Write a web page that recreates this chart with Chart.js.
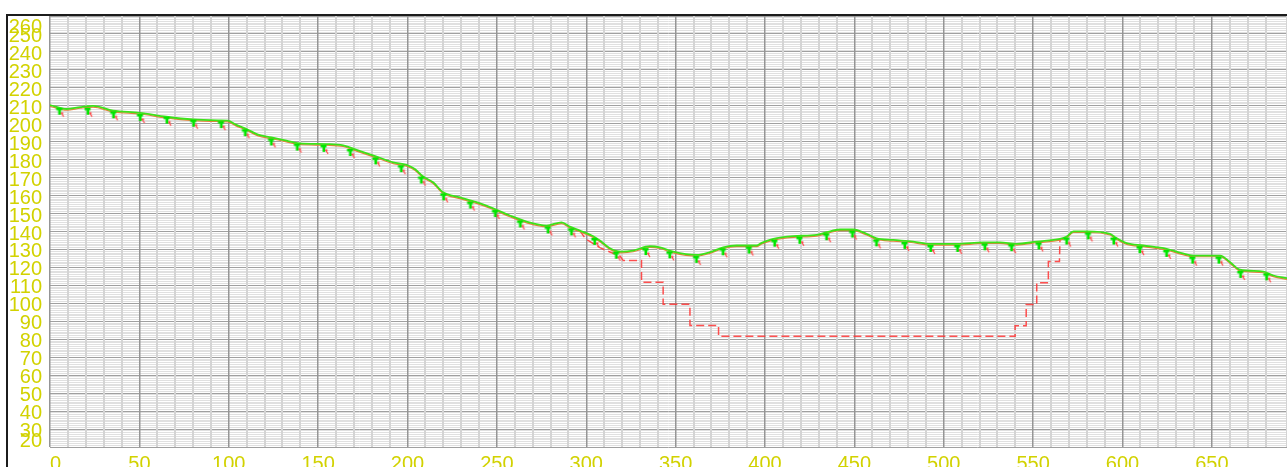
<!DOCTYPE html>
<html><head><meta charset="utf-8">
<script src="https://cdn.jsdelivr.net/npm/chart.js@4.4.1/dist/chart.umd.min.js"></script>
<style>
html,body{margin:0;padding:0;background:#fff;}
#wrap{position:relative;width:1287px;height:467px;overflow:hidden;}
#c{position:absolute;left:0;top:0;}
#frame{position:absolute;left:6px;top:14px;right:-10px;bottom:-10px;border-top:2px solid #1c1c1c;border-left:2px solid #1c1c1c;pointer-events:none;}
</style></head><body>
<div id="wrap"><canvas id="c" width="1287" height="467"></canvas><div id="frame"></div></div>
<script>
// ---- data ----
const profileX = [0, 9.4, 17, 24.1, 35.3, 50.2, 65.1, 80, 95, 99.6, 104, 109.9, 116.4, 123.9, 132.3, 139.7, 154.7, 164.0, 171.5, 182.7, 192.0, 199.4, 204.1, 208.7, 214.3, 219.9, 229.3, 238.6, 247.9, 257.2, 266.6, 277.8, 286.2, 290.8, 296.4, 303.9, 307.6, 313.2, 319.7, 326.2, 335.6, 341.2, 348.6, 361.7, 369.2, 376.6, 384.1, 395.3, 398.1, 404.6, 415.8, 428.9, 434.5, 441.9, 449.4, 456.8, 462.4, 471.8, 483.0, 492.3, 507.2, 522.1, 531.4, 540.8, 552.0, 565.0, 568.8, 572.5, 580.0, 593.0, 595.8, 602.3, 611.6, 624.7, 633.1, 639.6, 654.6, 660.2, 665.8, 678.8, 684.4, 692];
const profileY = [210.4, 208.2, 209.3, 209.9, 207.3, 206.1, 203.9, 202.4, 201.9, 201.7, 199.5, 197.1, 193.9, 192.4, 190.6, 189.1, 188.7, 188.0, 185.4, 181.7, 178.5, 177.1, 174.8, 170.6, 167.4, 161.8, 159.0, 156.3, 152.9, 148.9, 145.5, 143.3, 145.1, 142.7, 140.5, 137.4, 135.0, 130.7, 128.8, 129.4, 131.8, 131.2, 128.8, 127.0, 128.5, 131.2, 132.2, 132.2, 133.7, 135.9, 137.4, 138.1, 139.6, 141.1, 141.1, 138.7, 136.2, 135.3, 134.4, 133.1, 133.1, 134.0, 134.0, 133.1, 134.4, 135.9, 137.2, 140.1, 140.1, 138.7, 136.8, 133.5, 132.2, 130.3, 127.9, 126.6, 126.6, 122.9, 118.7, 117.7, 115.5, 114.0];
const cutX = [296.4, 299.5, 307.6, 313.2, 318.8, 320.7, 330.9, 330.9, 343.0, 343.0, 358.0, 358.0, 374.0, 374.0, 539.9, 539.9, 546.1, 546.1, 552.0, 552.0, 558.5, 558.5, 564.7, 565.0];
const cutY = [140.5, 136.0, 131.0, 128.6, 126.4, 123.8, 123.8, 111.8, 111.8, 99.5, 99.5, 87.7, 87.7, 81.7, 81.7, 87.5, 87.5, 99.4, 99.4, 111.4, 111.4, 123.3, 123.3, 135.9];
const markerX = [5.4, 21.3, 35.6, 50.6, 65.5, 80.4, 95.9, 109.3, 123.9, 138.4, 153.3, 168.1, 182.3, 196.6, 207.8, 220.3, 235.3, 249.2, 263.2, 278.7, 291.8, 304.8, 316.9, 333.4, 346.8, 361.7, 376.6, 391.2, 405.5, 419.5, 434.5, 449.0, 462.4, 478.3, 492.8, 507.8, 523.1, 538.0, 553.3, 568.8, 580.9, 595.2, 609.8, 624.7, 639.3, 654.0, 666.1, 680.7];
const markerY = [209.5, 209.5, 207.5, 206.0, 204.5, 202.8, 202.0, 197.5, 192.4, 189.5, 188.8, 186.5, 181.8, 177.5, 171.2, 161.8, 157.2, 152.5, 146.7, 143.4, 142.3, 137.0, 129.3, 131.3, 129.5, 127.0, 131.2, 132.2, 136.0, 137.6, 139.6, 141.1, 136.2, 134.8, 133.1, 133.1, 134.0, 133.5, 134.5, 137.2, 140.1, 137.2, 132.4, 130.3, 126.6, 126.6, 118.6, 117.3];
const xTickLabels = [0, 50, 100, 150, 200, 250, 300, 350, 400, 450, 500, 550, 600, 650];
const yTickLabels = [20, 30, 40, 50, 60, 70, 80, 90, 100, 110, 120, 130, 140, 150, 160, 170, 180, 190, 200, 210, 220, 230, 240, 250, 260];

const pts = (xs, ys) => xs.map((x, i) => ({x: x, y: ys[i]}));

// marker glyph (style only)
const mk = document.createElement('canvas');
mk.width = 18; mk.height = 30;
(function(){
  const g = mk.getContext('2d');
  const cx = 9, cy = 15;
  g.fillStyle = '#00e600';
  g.beginPath();
  g.moveTo(cx-3.5, cy+1); g.lineTo(cx+2.5, cy+1); g.lineTo(cx+2.5, cy+3.5); g.lineTo(cx+1.2, cy+3.5);
  g.lineTo(cx+1.2, cy+8); g.lineTo(cx-1.5, cy+8); g.lineTo(cx-1.5, cy+3.5); g.lineTo(cx-3.5, cy+3.5);
  g.closePath(); g.fill();
  g.strokeStyle = '#ff4a4a'; g.lineWidth = 1.3;
  g.beginPath(); g.moveTo(cx+1.5, cy+6); g.lineTo(cx+4, cy+10); g.stroke();
  g.beginPath(); g.moveTo(cx+1.5, cy+6); g.lineTo(cx+3.5, cy+6.5); g.stroke();
})();

const bgPlugin = {
  id: 'bg',
  beforeDraw(chart) {
    const a = chart.chartArea, ctx = chart.ctx;
    ctx.save(); ctx.fillStyle = '#ffffff';
    ctx.fillRect(a.left, a.top, a.right - a.left, a.bottom - a.top);
    ctx.restore();
  }
};
const offsetPlugin = {
  id: 'offs',
  beforeDatasetDraw(chart, args) {
    const ds = chart.data.datasets[args.index];
    if (ds.offsetY) { chart.ctx.save(); chart.ctx.translate(0, ds.offsetY); }
  },
  afterDatasetDraw(chart, args) {
    const ds = chart.data.datasets[args.index];
    if (ds.offsetY) { chart.ctx.restore(); }
  }
};
const labelPlugin = {
  id: 'labels',
  afterDraw(chart) {
    const ctx = chart.ctx, a = chart.chartArea;
    const xs = chart.scales.x, ys = chart.scales.y;
    ctx.save();
    ctx.font = '20px "Liberation Sans", Arial, sans-serif';
    ctx.fillStyle = '#d2d200';
    ctx.textBaseline = 'alphabetic';
    ctx.textAlign = 'right';
    yTickLabels.forEach(v => {
      let py = ys.getPixelForValue(v) + 8;
      py = Math.min(py, a.bottom);
      py = Math.max(py, a.top + 16.5);
      ctx.fillText(String(v), 42, py);
    });
    ctx.textAlign = 'center';
    xTickLabels.forEach(v => {
      let px = xs.getPixelForValue(v);
      const w = ctx.measureText(String(v)).width;
      if (px - w / 2 < a.left) px = a.left + w / 2;
      if (px + w / 2 > a.right) px = a.right - w / 2;
      ctx.fillText(String(v), px, 469.5);
    });
    ctx.restore();
  }
};

new Chart(document.getElementById('c'), {
  type: 'line',
  data: {
    datasets: [
      { label: 'markers', data: pts(markerX, markerY), showLine: false,
        pointStyle: mk, pointRadius: 8, pointHoverRadius: 8, borderWidth: 0 },
      { label: 'profile', data: pts(profileX, profileY), borderColor: '#3ce21a', borderWidth: 1.8,
        pointRadius: 0, cubicInterpolationMode: 'monotone', fill: false },
      { label: 'profile2', data: pts(profileX, profileY), borderColor: 'rgb(228,130,60)', borderWidth: 1.2,
        pointRadius: 0, cubicInterpolationMode: 'monotone', fill: false, offsetY: 1.2 },
      { label: 'cut', data: pts(cutX, cutY), borderColor: 'rgba(255,50,50,0.85)', borderWidth: 1.5,
        borderDash: [8, 4], pointRadius: 0, tension: 0, fill: false }
    ]
  },
  options: {
    responsive: false, animation: false, devicePixelRatio: 1,
    layout: { autoPadding: false, padding: { left: 50, top: 16, right: 0, bottom: 20 } },
    plugins: { legend: { display: false }, tooltip: { enabled: false } },
    events: [],
    scales: {
      x: {
        type: 'linear', min: 0, max: 692,
        ticks: { display: false, stepSize: 10, autoSkip: false, maxTicksLimit: 1000 },
        grid: {
          z: -1,
          drawTicks: false,
          color: c => (Math.round(c.tick.value) % 50 === 0) ? '#959595' : '#d4d4d4',
          lineWidth: c => (Math.round(c.tick.value) % 50 === 0) ? 1.5 : 2
        },
        border: { display: false },
        afterFit: s => { s.height = 0; }
      },
      y: {
        type: 'linear', min: 20, max: 260,
        ticks: { display: false, stepSize: 1, autoSkip: false, maxTicksLimit: 1000 },
        grid: {
          z: -2,
          drawTicks: false,
          color: c => (Math.round(c.tick.value) % 10 === 0) ? '#a0a0a0' : '#e0e0e0',
          lineWidth: 1
        },
        border: { display: false },
        afterFit: s => { s.width = 0; }
      }
    }
  },
  plugins: [bgPlugin, offsetPlugin, labelPlugin]
});
</script>
</body></html>
